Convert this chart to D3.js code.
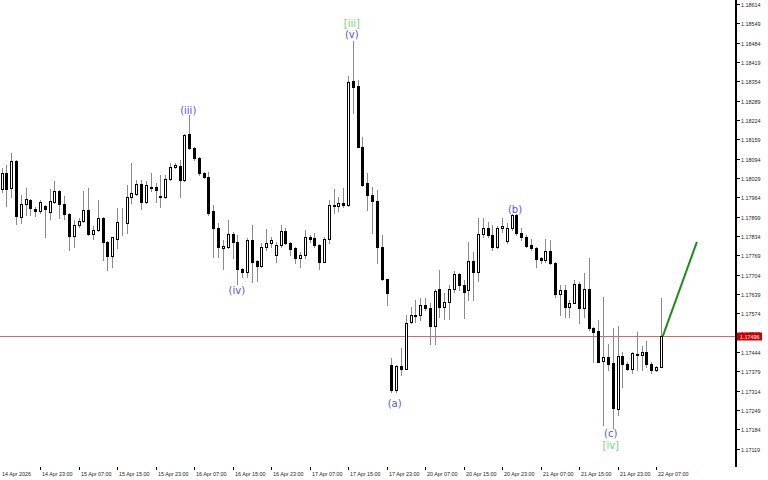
<!DOCTYPE html>
<html><head><meta charset="utf-8">
<script src="https://cdn.jsdelivr.net/npm/d3@7"></script>
<style>html,body{margin:0;padding:0;background:#fff;}svg{display:block;}</style>
</head><body>
<svg id="c" width="768" height="480"></svg>
<script>
// ---- data (EURUSD H1) ----
const opens=[1.17992,1.18044,1.17994,1.18087,1.17897,1.17940,1.17955,1.17925,1.17919,1.17936,
1.17915,1.17949,1.17985,1.17940,1.17908,1.17834,1.17870,1.17883,1.17921,1.17839,
1.17853,1.17893,1.17815,1.17766,1.17824,1.17882,1.17878,1.17964,1.17974,1.18009,
1.17948,1.17999,1.17997,1.17964,1.17964,1.18024,1.18065,1.18069,1.18022,1.18177,
1.18129,1.18095,1.18044,1.18033,1.17919,1.17860,1.17793,1.17798,1.17840,1.17814,
1.17724,1.17714,1.17820,1.17750,1.17734,1.17796,1.17809,1.17769,1.17803,1.17849,
1.17809,1.17792,1.17761,1.17769,1.17831,1.17826,1.17803,1.17747,1.17823,1.17938,
1.17935,1.17944,1.17938,1.18356,1.18338,1.18134,1.18011,1.17972,1.17952,1.17798,
1.17688,1.17400,1.17316,1.17396,1.17386,1.17545,1.17565,1.17568,1.17602,1.17591,
1.17531,1.17654,1.17594,1.17611,1.17654,1.17706,1.17669,1.17652,1.17751,1.17714,
1.17839,1.17860,1.17837,1.17798,1.17860,1.17818,1.17860,1.17904,1.17845,1.17829,
1.17803,1.17792,1.17759,1.17753,1.17783,1.17744,1.17639,1.17652,1.17594,1.17609,
1.17671,1.17591,1.17654,1.17523,1.17514,1.17414,1.17428,1.17406,1.17251,1.17430,
1.17403,1.17386,1.17437,1.17433,1.17445,1.17403,1.17383,1.17394];
const highs=[1.18062,1.18072,1.18112,1.18089,1.17972,1.17994,1.17958,1.17932,1.17955,1.17938,
1.17991,1.18019,1.17988,1.17968,1.17911,1.17887,1.17893,1.17986,1.17994,1.17867,
1.17955,1.17898,1.17817,1.17830,1.17927,1.17927,1.18005,1.18080,1.18022,1.18022,
1.18019,1.18047,1.18011,1.18039,1.18039,1.18078,1.18080,1.18089,1.18177,1.18241,
1.18133,1.18099,1.18050,1.18048,1.17938,1.17876,1.17820,1.17887,1.17848,1.17837,
1.17726,1.17826,1.17871,1.17753,1.17809,1.17856,1.17829,1.17815,1.17871,1.17860,
1.17814,1.17798,1.17781,1.17854,1.17837,1.17843,1.17807,1.17831,1.17955,1.17991,
1.17964,1.17994,1.18372,1.18489,1.18358,1.18168,1.18044,1.17999,1.17988,1.17837,
1.17689,1.17422,1.17400,1.17456,1.17568,1.17596,1.17618,1.17624,1.17624,1.17607,
1.17654,1.17719,1.17641,1.17669,1.17717,1.17708,1.17686,1.17815,1.17781,1.17893,
1.17893,1.17882,1.17871,1.17867,1.17893,1.17876,1.17906,1.17908,1.17860,1.17837,
1.17823,1.17798,1.17764,1.17823,1.17820,1.17747,1.17669,1.17669,1.17618,1.17686,
1.17680,1.17710,1.17759,1.17529,1.17551,1.17628,1.17470,1.17523,1.17531,1.17445,
1.17411,1.17444,1.17512,1.17464,1.17482,1.17410,1.17396,1.17624];
const lows=[1.17982,1.17935,1.17966,1.17874,1.17878,1.17904,1.17904,1.17902,1.17912,1.17831,
1.17890,1.17944,1.17893,1.17892,1.17787,1.17798,1.17865,1.17881,1.17837,1.17825,
1.17850,1.17753,1.17719,1.17730,1.17792,1.17837,1.17845,1.17946,1.17972,1.17923,
1.17944,1.17986,1.17949,1.17930,1.17961,1.18022,1.18061,1.17966,1.18019,1.18126,
1.18089,1.18039,1.18028,1.17904,1.17764,1.17764,1.17724,1.17792,1.17759,1.17671,
1.17697,1.17697,1.17680,1.17683,1.17730,1.17787,1.17798,1.17747,1.17798,1.17807,
1.17770,1.17742,1.17730,1.17759,1.17815,1.17798,1.17722,1.17746,1.17809,1.17910,
1.17919,1.17930,1.17935,1.18246,1.18133,1.18003,1.17921,1.17844,1.17742,1.17686,
1.17602,1.17310,1.17310,1.17366,1.17385,1.17540,1.17545,1.17551,1.17585,1.17470,
1.17470,1.17562,1.17554,1.17554,1.17646,1.17652,1.17557,1.17618,1.17618,1.17683,
1.17831,1.17831,1.17787,1.17792,1.17848,1.17809,1.17854,1.17837,1.17820,1.17796,
1.17787,1.17730,1.17742,1.17747,1.17741,1.17630,1.17568,1.17562,1.17562,1.17608,
1.17540,1.17562,1.17518,1.17411,1.17410,1.17198,1.17383,1.17187,1.17232,1.17327,
1.17383,1.17372,1.17383,1.17383,1.17394,1.17374,1.17381,1.17392];
const closes=[1.18046,1.17991,1.18087,1.17902,1.17941,1.17957,1.17927,1.17919,1.17949,1.17923,
1.17951,1.17985,1.17941,1.17908,1.17834,1.17870,1.17885,1.17921,1.17839,1.17854,
1.17893,1.17815,1.17767,1.17829,1.17881,1.17880,1.17966,1.17977,1.18009,1.17947,
1.18004,1.17996,1.17988,1.17967,1.18024,1.18066,1.18071,1.18022,1.18173,1.18129,
1.18095,1.18044,1.18033,1.17912,1.17860,1.17798,1.17800,1.17840,1.17814,1.17724,
1.17714,1.17820,1.17747,1.17734,1.17796,1.17809,1.17820,1.17803,1.17849,1.17809,
1.17789,1.17761,1.17770,1.17831,1.17825,1.17803,1.17747,1.17823,1.17938,1.17935,
1.17946,1.17937,1.18353,1.18336,1.18134,1.18005,1.17972,1.17952,1.17798,1.17688,
1.17641,1.17316,1.17396,1.17385,1.17542,1.17568,1.17568,1.17602,1.17591,1.17531,
1.17650,1.17594,1.17611,1.17654,1.17706,1.17669,1.17646,1.17751,1.17714,1.17839,
1.17860,1.17837,1.17798,1.17860,1.17867,1.17860,1.17904,1.17843,1.17829,1.17800,
1.17792,1.17755,1.17753,1.17783,1.17744,1.17639,1.17652,1.17594,1.17607,1.17671,
1.17591,1.17654,1.17523,1.17512,1.17411,1.17428,1.17403,1.17254,1.17430,1.17403,
1.17386,1.17441,1.17433,1.17445,1.17403,1.17383,1.17394,1.17496];

const priceTicks=[1.18614,1.18549,1.18484,1.18419,1.18354,1.18289,1.18224,1.18159,1.18094,1.18029,
1.17964,1.17899,1.17834,1.17769,1.17704,1.17639,1.17574,1.17509,1.17444,1.17379,1.17314,1.17249,1.17184,1.17119];
const timeLabels=["14 Apr 2026","14 Apr 23:00","15 Apr 07:00","15 Apr 15:00","15 Apr 23:00","16 Apr 07:00",
"16 Apr 15:00","16 Apr 23:00","17 Apr 07:00","17 Apr 15:00","17 Apr 23:00","20 Apr 07:00","20 Apr 15:00",
"20 Apr 23:00","21 Apr 07:00","21 Apr 15:00","21 Apr 23:00","22 Apr 07:00"];
const timeBars=[0,8,16,24,32,40,48,56,64,72,80,88,96,104,112,120,128,136];

const waveText=["(iii)","(v)","[iii]","(iv)","(a)","(b)","(c)","[iv]"];
const waveBar=[38.8,72.8,72.8,48.9,81.7,106.7,126.6,126.6];
const wavePrice=[1.18257,1.18510,1.18547,1.17650,1.17270,1.17924,1.17171,1.17128];
const waveKind=["minor","minor","major","minor","minor","minor","minor","major"];

const lastPrice=1.17496;
const arrowBars=[137.4,144.5];
const arrowPrices=[1.17496,1.17814];

// ---- drawing ----
const svg=d3.select("#c");
const x=d3.scaleLinear().domain([0,137]).range([1.5,1.5+4.8125*137]);
const y=d3.scaleLinear().domain([1.17119,1.18549]).range([448.5,23.3]);
const axisX=736;

const bars=d3.range(opens.length).map(i=>({i,o:opens[i],h:highs[i],l:lows[i],c:closes[i]}));

svg.append("rect").attr("width",768).attr("height",480).attr("fill","#fff");

const plot=svg.append("g").attr("shape-rendering","crispEdges");
// price line
const yp=Math.round(y(lastPrice))+0.5;
plot.append("line").attr("x1",0).attr("x2",axisX-1).attr("y1",yp).attr("y2",yp)
  .attr("stroke","#cf6a6a").attr("stroke-width",1);

// wicks
plot.selectAll("line.w").data(bars).join("line").attr("class","w")
  .attr("x1",d=>Math.round(x(d.i))+0.5).attr("x2",d=>Math.round(x(d.i))+0.5)
  .attr("y1",d=>Math.round(y(d.h))).attr("y2",d=>Math.round(y(d.l))+1)
  .attr("stroke","#8a8a8a").attr("stroke-width",1);
// bodies
plot.selectAll("rect.b").data(bars).join("rect").attr("class","b")
  .attr("x",d=>Math.round(x(d.i))-0.5).attr("width",2)
  .attr("y",d=>Math.round(y(Math.max(d.o,d.c)))+0.5)
  .attr("height",d=>Math.max(0,Math.round(y(Math.min(d.o,d.c)))-Math.round(y(Math.max(d.o,d.c)))))
  .attr("fill",d=>d.c>=d.o?"#fff":"#000").attr("stroke","#000").attr("stroke-width",1);

// projection arrow
svg.append("line")
  .attr("x1",x(arrowBars[0])).attr("y1",y(arrowPrices[0]))
  .attr("x2",x(arrowBars[1])).attr("y2",y(arrowPrices[1]))
  .attr("stroke","#1c8c1c").attr("stroke-width",2);

// wave labels
svg.selectAll("text.wave").data(waveText).join("text").attr("class","wave")
  .attr("x",(d,k)=>x(waveBar[k])).attr("y",(d,k)=>y(wavePrice[k]))
  .attr("text-anchor","middle").attr("dominant-baseline","central")
  .attr("font-family","DejaVu Sans, sans-serif").attr("font-size",10)
  .attr("fill",(d,k)=>waveKind[k]==="major"?"#72d672":"#5252f2")
  .text(d=>d);

// right axis
svg.append("rect").attr("x",axisX-1).attr("y",0).attr("width",2).attr("height",467).attr("fill","#000");
const ra=svg.append("g");
priceTicks.forEach(p=>{
  const yy=Math.round(y(p))+0.5;
  ra.append("line").attr("x1",axisX+1).attr("x2",axisX+4).attr("y1",yy).attr("y2",yy)
    .attr("stroke","#000").attr("shape-rendering","crispEdges");
  ra.append("text").attr("x",axisX+5).attr("y",yy).attr("dominant-baseline","central")
    .attr("font-family","Liberation Sans, Arial, sans-serif").attr("font-size",5.4).attr("fill","#222")
    .text(d3.format(".5f")(p));
});
// current price tag
ra.append("rect").attr("x",axisX+1).attr("y",Math.round(y(lastPrice))-3.5).attr("width",25).attr("height",8)
  .attr("fill","#cc0000");
ra.append("text").attr("x",axisX+4).attr("y",Math.round(y(lastPrice))+0.5).attr("dominant-baseline","central")
  .attr("font-family","Liberation Sans, Arial, sans-serif").attr("font-size",5.4).attr("fill","#fff")
  .text(d3.format(".5f")(lastPrice));

// bottom time axis
const ta=svg.append("g");
timeLabels.forEach((t,k)=>{
  const xx=k===0?0.5:Math.round(x(timeBars[k]))+0.5;
  if(k>0) ta.append("line").attr("x1",xx).attr("x2",xx).attr("y1",467).attr("y2",470)
    .attr("stroke","#000").attr("shape-rendering","crispEdges");
  ta.append("text").attr("x",xx+1.5).attr("y",475.5)
    .attr("font-family","Liberation Sans, Arial, sans-serif").attr("font-size",5.4).attr("fill","#222")
    .text(t);
});
</script>
</body></html>
